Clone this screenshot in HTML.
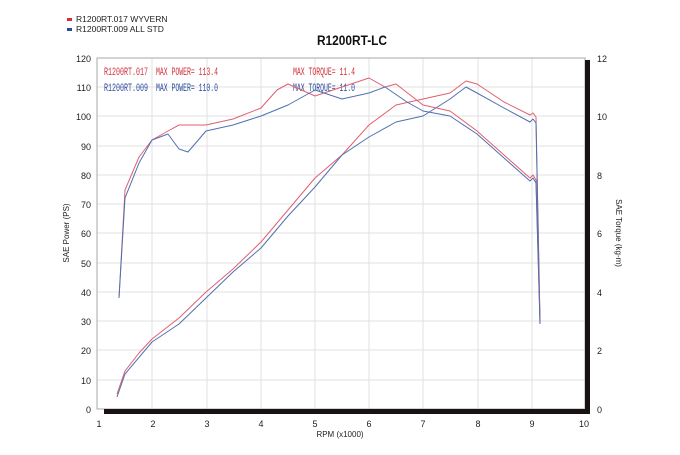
<!DOCTYPE html>
<html><head><meta charset="utf-8"><style>
body{margin:0;background:#fff;}
.s{font-family:"Liberation Sans",sans-serif;}
.m{font-family:"Liberation Mono",monospace;}
</style></head><body>
<svg width="680" height="450" viewBox="0 0 680 450" xmlns="http://www.w3.org/2000/svg">
<rect width="680" height="450" fill="#fff"/>
<rect x="67" y="18" width="5" height="3" fill="#d0303a"/>
<rect x="67" y="28" width="5" height="3" fill="#2a4a9a"/>
<text class="s" x="76" y="22" font-size="8.5" fill="#222">R1200RT.017  WYVERN</text>
<text class="s" x="76" y="32" font-size="8.5" fill="#222">R1200RT.009  ALL STD</text>
<text class="s" x="352" y="45" font-size="14" font-weight="bold" fill="#111" text-anchor="middle" transform="translate(352,0) scale(0.85,1) translate(-352,0)">R1200RT-LC</text>
<g stroke="#e0e0e0" stroke-width="1">
<line x1="152" y1="58" x2="152" y2="409"/><line x1="207" y1="58" x2="207" y2="409"/>
<line x1="261" y1="58" x2="261" y2="409"/><line x1="315" y1="58" x2="315" y2="409"/>
<line x1="369" y1="58" x2="369" y2="409"/><line x1="423" y1="58" x2="423" y2="409"/>
<line x1="478" y1="58" x2="478" y2="409"/><line x1="532" y1="58" x2="532" y2="409"/>
<line x1="97" y1="87" x2="585" y2="87"/><line x1="97" y1="116" x2="585" y2="116"/>
<line x1="97" y1="146" x2="585" y2="146"/><line x1="97" y1="175" x2="585" y2="175"/>
<line x1="97" y1="204" x2="585" y2="204"/><line x1="97" y1="233" x2="585" y2="233"/>
<line x1="97" y1="263" x2="585" y2="263"/><line x1="97" y1="292" x2="585" y2="292"/>
<line x1="97" y1="321" x2="585" y2="321"/><line x1="97" y1="350" x2="585" y2="350"/>
<line x1="97" y1="380" x2="585" y2="380"/>
</g>
<rect x="97" y="58" width="488" height="351" fill="none" stroke="#aaa" stroke-width="1"/>
<rect x="104" y="409" width="486" height="5" fill="#1a1212"/>
<rect x="585" y="60" width="5" height="354" fill="#1a1212"/>
<g class="s" font-size="9" fill="#222" text-anchor="end">
<text x="91" y="62">120</text><text x="91" y="91">110</text><text x="91" y="120">100</text>
<text x="91" y="150">90</text><text x="91" y="179">80</text><text x="91" y="208">70</text>
<text x="91" y="237">60</text><text x="91" y="267">50</text><text x="91" y="296">40</text>
<text x="91" y="325">30</text><text x="91" y="354">20</text><text x="91" y="384">10</text>
<text x="91" y="413">0</text>
</g>
<g class="s" font-size="9" fill="#222">
<text x="597" y="62">12</text><text x="597" y="120">10</text><text x="597" y="179">8</text>
<text x="597" y="237">6</text><text x="597" y="296">4</text><text x="597" y="354">2</text>
<text x="597" y="413">0</text>
</g>
<g class="s" font-size="9" fill="#222" text-anchor="middle">
<text x="99" y="427">1</text><text x="153" y="427">2</text><text x="207" y="427">3</text>
<text x="261" y="427">4</text><text x="315" y="427">5</text><text x="369" y="427">6</text>
<text x="423" y="427">7</text><text x="478" y="427">8</text><text x="532" y="427">9</text>
<text x="584" y="427">10</text>
<text x="340" y="437" font-size="8">RPM (x1000)</text>
</g>
<text class="s" font-size="8" fill="#222" text-anchor="middle" transform="translate(69,233) rotate(-90)">SAE Power (PS)</text>
<text class="s" font-size="8" fill="#222" text-anchor="middle" transform="translate(616,233) rotate(90)">SAE Torque (kg-m)</text>
<g class="m" font-size="11">
<text x="104" y="75" fill="#d0303a" textLength="44" lengthAdjust="spacingAndGlyphs">R1200RT.017</text>
<text x="156" y="75" fill="#d0303a" textLength="62" lengthAdjust="spacingAndGlyphs">MAX POWER= 113.4</text>
<text x="104" y="91" fill="#2a4a9a" textLength="44" lengthAdjust="spacingAndGlyphs">R1200RT.009</text>
<text x="156" y="91" fill="#2a4a9a" textLength="62" lengthAdjust="spacingAndGlyphs">MAX POWER= 110.0</text>
<text x="293" y="75" fill="#d0303a" textLength="62" lengthAdjust="spacingAndGlyphs">MAX TORQUE= 11.4</text>
<text x="293" y="91" fill="#2a4a9a" textLength="62" lengthAdjust="spacingAndGlyphs">MAX TORQUE= 11.0</text>
</g>
<g fill="none" stroke-width="1" stroke-linejoin="round">
<polyline stroke="#e06070" points="117,394 125,371 139,353 152,339 179,318 206,292 233,269 261,242 288,210 315,178 342,155 369,125 396,105 423,99 450,93 466,81 477,84 504,102 530,115 533,113 536,117 540,320"/>
<polyline stroke="#5070b0" points="117,397 125,374 152,342 179,324 206,298 233,272 261,248 288,216 315,187 342,155 369,137 396,122 423,116 450,99 466,87 477,93 504,108 530,122 533,119 536,123 540,324"/>
<polyline stroke="#e06070" points="119,298 125,190 139,157 152,140 168,131 179,125 206,125 233,119 261,108 277,90 288,84 315,96 342,87 369,78 385,87 396,84 423,105 450,111 477,131 504,155 530,178 533,175 536,180 540,321"/>
<polyline stroke="#5070b0" points="119,298 125,198 139,163 152,140 168,134 179,149 188,152 206,131 233,125 261,116 288,105 315,90 342,99 369,93 385,87 407,102 423,111 450,116 477,134 504,158 530,181 533,178 536,183 540,324"/>
</g>
</svg>
</body></html>
